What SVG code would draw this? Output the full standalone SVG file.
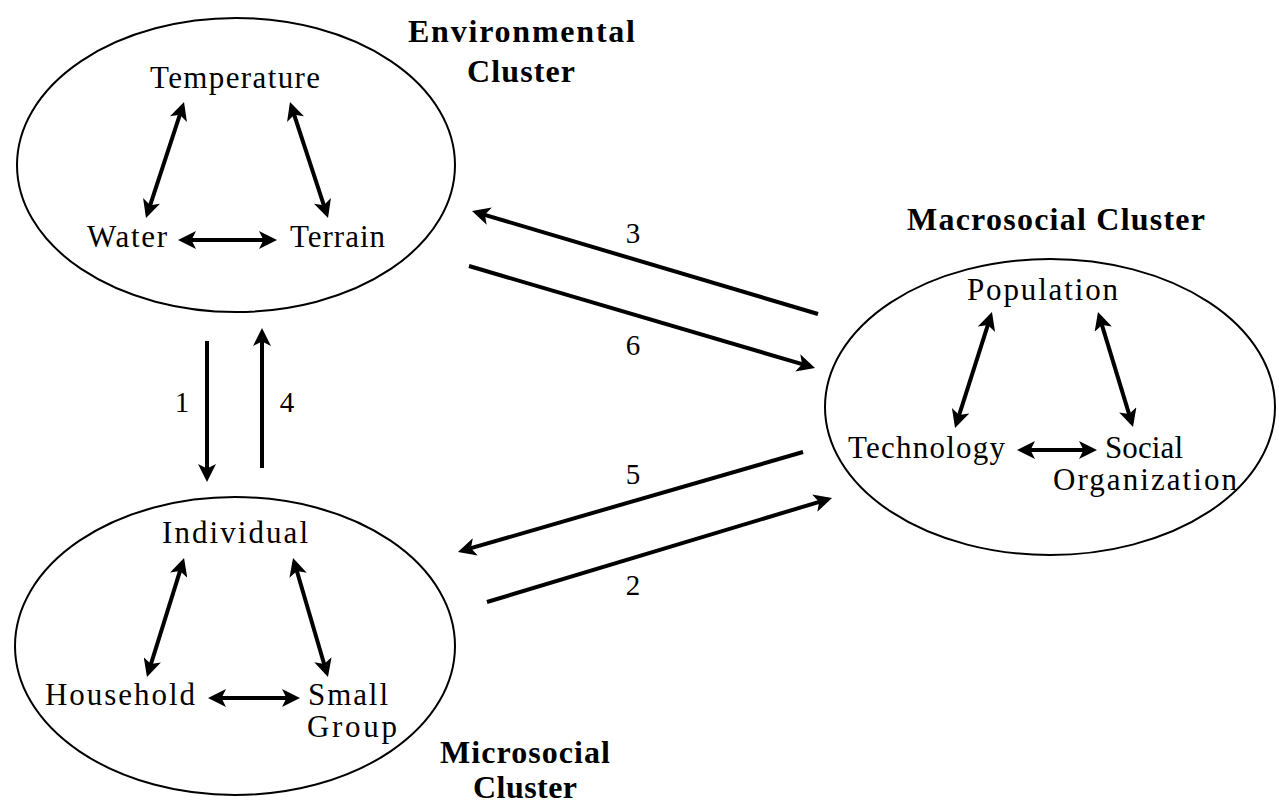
<svg xmlns="http://www.w3.org/2000/svg" width="1279" height="804" viewBox="0 0 1279 804">
<defs>
<style>
.bg{fill:#ffffff}
.cl{fill:none;stroke:#000;stroke-width:2}
.t{font-family:"Liberation Serif",serif;font-size:31px;fill:#000}
.h{font-family:"Liberation Serif",serif;font-size:32px;font-weight:bold;fill:#000}
.n{font-family:"Liberation Serif",serif;font-size:29px;fill:#000}
.a{fill:none;stroke:#000;stroke-width:4}
.e{marker-end:url(#ah)}
.d{marker-start:url(#ah);marker-end:url(#ah)}
</style>
<marker id="ah" viewBox="0 0 10 10" refX="7.5" refY="5" markerWidth="4.5" markerHeight="4.5" orient="auto-start-reverse">
<path d="M0,0 L10,5 L0,10 L2.5,5 z" fill="#000"/>
</marker>
</defs>
<rect class="bg" x="0" y="0" width="1279" height="804"/>

<g id="environmental">
<ellipse class="cl" cx="236" cy="165" rx="219" ry="147"/>
<text class="h" x="408" y="42" textLength="227" lengthAdjust="spacing">Environmental</text>
<text class="h" x="467" y="82" textLength="108" lengthAdjust="spacing">Cluster</text>
<text class="t" x="150" y="88" textLength="170" lengthAdjust="spacing">Temperature</text>
<text class="t" x="87" y="247" textLength="80" lengthAdjust="spacing">Water</text>
<text class="t" x="290" y="247" textLength="95" lengthAdjust="spacing">Terrain</text>
<path class="a d" d="M182.6,106.3 L147.4,213.7"/>
<path class="a d" d="M291.4,106.3 L326.6,213.7"/>
<path class="a d" d="M182.5,240 L272.5,240"/>
</g>

<g id="macrosocial">
<ellipse class="cl" cx="1050" cy="407" rx="225" ry="148"/>
<text class="h" x="907" y="230" textLength="298" lengthAdjust="spacing">Macrosocial Cluster</text>
<text class="t" x="967" y="300" textLength="151" lengthAdjust="spacing">Population</text>
<text class="t" x="848" y="458" textLength="157" lengthAdjust="spacing">Technology</text>
<text class="t" x="1105" y="458" textLength="78" lengthAdjust="spacing">Social</text>
<text class="t" x="1053" y="490" textLength="184" lengthAdjust="spacing">Organization</text>
<path class="a d" d="M990.6,316.3 L956.4,423.7"/>
<path class="a d" d="M1099.3,316.3 L1131.7,422.7"/>
<path class="a d" d="M1021.5,450 L1092.5,450"/>
</g>

<g id="microsocial">
<ellipse class="cl" cx="235" cy="646" rx="220" ry="149"/>
<text class="h" x="440" y="763" textLength="170" lengthAdjust="spacing">Microsocial</text>
<text class="h" x="473" y="798" textLength="104" lengthAdjust="spacing">Cluster</text>
<text class="t" x="162" y="543" textLength="146" lengthAdjust="spacing">Individual</text>
<text class="t" x="45" y="705" textLength="150" lengthAdjust="spacing">Household</text>
<text class="t" x="308" y="705" textLength="80" lengthAdjust="spacing">Small</text>
<text class="t" x="307" y="737" textLength="90" lengthAdjust="spacing">Group</text>
<path class="a d" d="M182.7,562.3 L148.3,672.7"/>
<path class="a d" d="M294.3,562.3 L326.7,672.7"/>
<path class="a d" d="M212.5,698 L295.5,698"/>
</g>

<g id="connectors">
<path class="a e" d="M818,314 L476.3,212.3"/>
<path class="a e" d="M469,266 L810.7,366.7"/>
<path class="a e" d="M207,341 L207,477.5"/>
<path class="a e" d="M262,468 L262,332.5"/>
<path class="a e" d="M803,452 L462.3,550.7"/>
<path class="a e" d="M487,602 L827.7,499.3"/>
<text class="n" x="633" y="243" text-anchor="middle">3</text>
<text class="n" x="633" y="355" text-anchor="middle">6</text>
<text class="n" x="182" y="412" text-anchor="middle">1</text>
<text class="n" x="287" y="412" text-anchor="middle">4</text>
<text class="n" x="633" y="484" text-anchor="middle">5</text>
<text class="n" x="633" y="595" text-anchor="middle">2</text>
</g>
</svg>
